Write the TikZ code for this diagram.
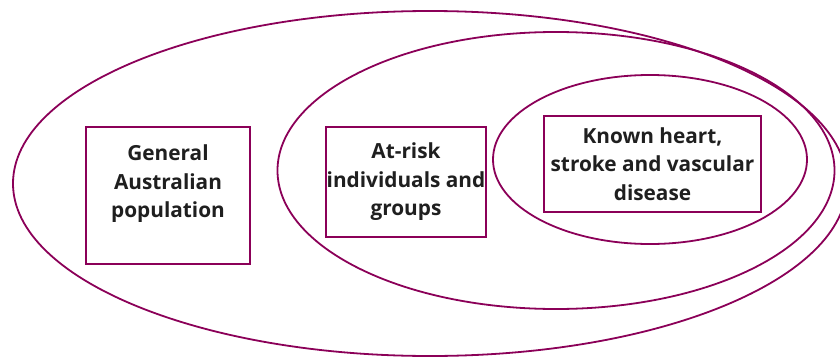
\documentclass[tikz,border=0pt]{standalone}
\usepackage{fontspec}
\setmainfont{Open Sans}
\definecolor{ringpurple}{RGB}{139,0,88}
\begin{document}
\begin{tikzpicture}[x=1pt,y=-1pt,
  ring/.style={draw=ringpurple,line width=1.8pt},
  box node/.style={rectangle,draw=ringpurple,line width=1.8pt,align=center,inner sep=0pt,
    font=\fontsize{20.8}{28.5}\selectfont\bfseries,text=black!88}]
\useasboundingbox (0,0) rectangle (840,356);
% nested rings
\draw[ring] (430,183.5) ellipse [x radius=417pt,y radius=172.5pt];
\draw[ring] (556,170.5) ellipse [x radius=278.5pt,y radius=138.5pt];
\draw[ring] (650,159.5) ellipse [x radius=157pt,y radius=84.5pt];
% labels
\node[box node,minimum width=164pt,minimum height=137pt] (general) at (168,195.5) {General\\Australian\\population\\\mbox{}};
\node[box node,minimum width=160pt,minimum height=110pt] (atrisk) at (406,182) {At-risk\\individuals and\\groups};
\node[box node,minimum width=217pt,minimum height=96pt] (known) at (652.5,164) {Known heart,\\stroke and vascular\\disease};
\end{tikzpicture}
\end{document}
